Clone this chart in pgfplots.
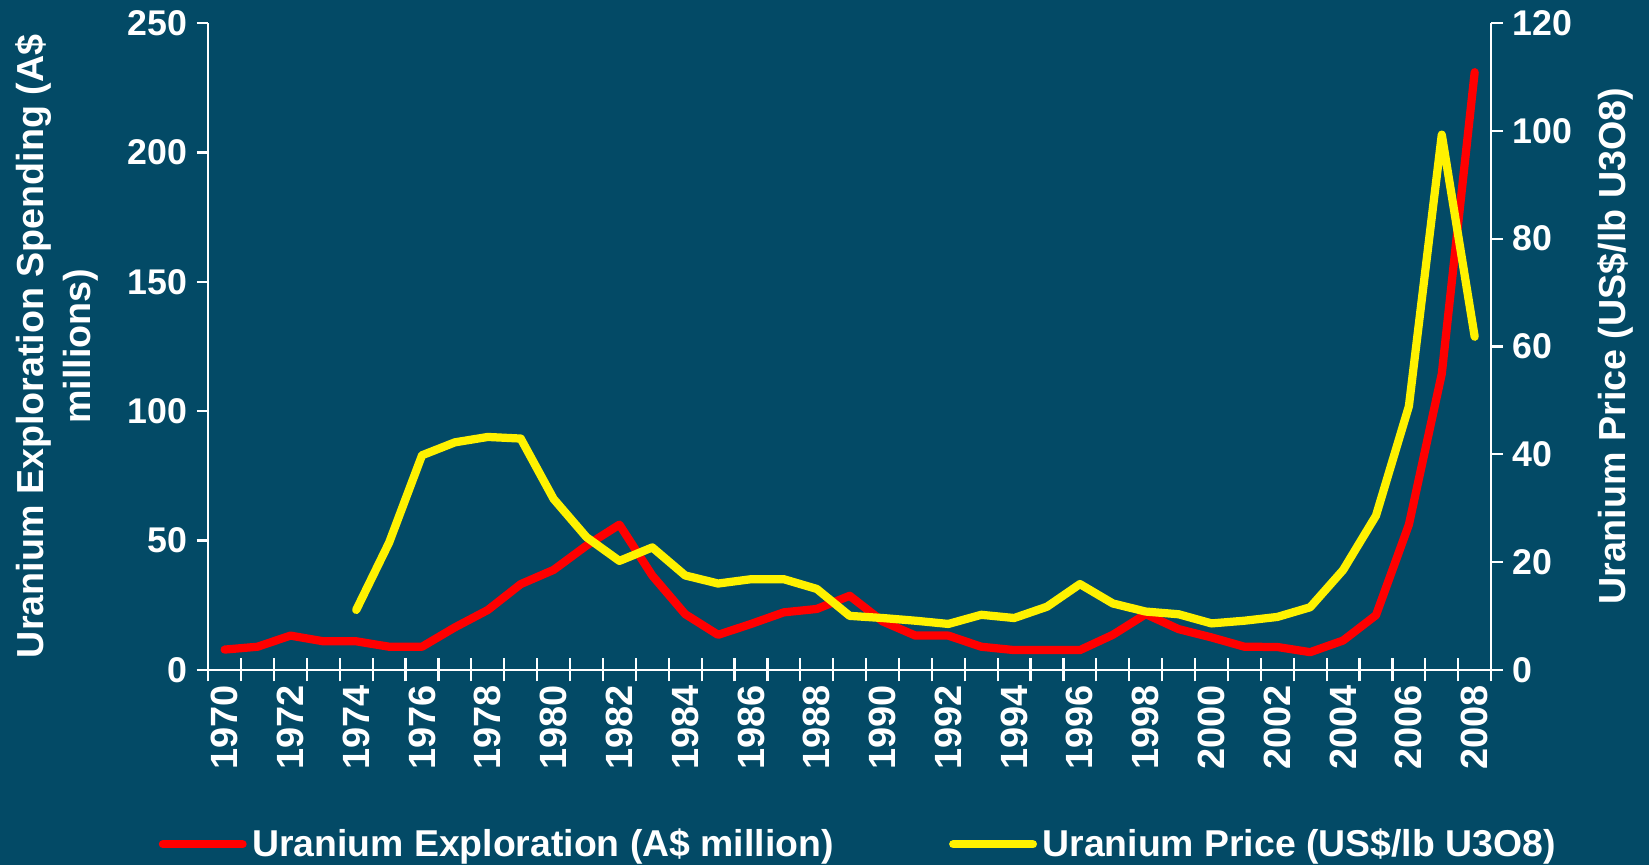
\documentclass[border=0pt]{standalone}
\usepackage{fontspec}
\setmainfont{Liberation Sans}
\usepackage{pgfplots}
\pgfplotsset{compat=1.18}
\definecolor{bg}{RGB}{3,74,102}
\pgfplotstableread{
year expl
1970 7.8
1971 8.9
1972 13.2
1973 11
1974 11
1975 8.9
1976 8.9
1977 16.4
1978 23.1
1979 33.1
1980 38.6
1981 48
1982 56.1
1983 36.4
1984 21.5
1985 13.5
1986 17.7
1987 22.2
1988 23.5
1989 28.6
1990 18.7
1991 13.2
1992 13.2
1993 8.9
1994 7.6
1995 7.6
1996 7.6
1997 13.5
1998 21.5
1999 15.7
2000 12.5
2001 8.9
2002 8.8
2003 6.8
2004 11.3
2005 21.1
2006 56.1
2007 114.4
2008 231
}\expltable
\pgfplotstableread{
year price
1974 11.1
1975 23.6
1976 39.8
1977 42.2
1978 43.2
1979 42.9
1980 31.7
1981 24.6
1982 20.2
1983 22.7
1984 17.5
1985 16
1986 16.8
1987 16.8
1988 15
1989 10.0
1990 9.6
1991 9.1
1992 8.5
1993 10.2
1994 9.6
1995 11.7
1996 15.9
1997 12.3
1998 10.8
1999 10.3
2000 8.6
2001 9.1
2002 9.8
2003 11.6
2004 18.5
2005 28.6
2006 48.9
2007 99.3
2008 61.8
}\pricetable
\pgfplotsset{
  common/.style={
    at={(75.76pt,71.2pt)}, anchor=south west,
    scale only axis, width=466.8pt, height=235.3pt,
    xmin=1969.5, xmax=2008.5,
    axis line style={white, line width=0.8pt, -},
    tick style={white, line width=0.8pt},
    major tick length=4.2pt,
    /pgf/number format/assume math mode=true,
    /pgf/number format/1000 sep={},
    ticklabel style={text=white, font=\bfseries\fontsize{13}{13}\selectfont},
    label style={text=white, font=\bfseries\fontsize{13.7}{17.2}\selectfont},
  }
}
\begin{document}
\begin{tikzpicture}[x=1pt,y=1pt]
\fill[bg] (0,0) rectangle (600,314.9);
\begin{axis}[common,
  ymin=0, ymax=250,
  axis x line*=bottom, axis y line*=left,
  ytick={0,50,...,250},
  ytick align=outside,
  xtick={1970,1972,...,2008},
  every major x tick/.style={draw=none},
  minor xtick={1969.5,1970.5,...,2008.5},
  every minor x tick/.style={white, line width=0.8pt},
  minor tick length=8.4pt,
  xtick align=center,
  xticklabel style={rotate=90, anchor=east, font=\bfseries\fontsize{13.8}{14}\selectfont},
  ylabel={Uranium Exploration Spending (A\$\\millions)},
  ylabel style={align=center, at={(axis description cs:-0.118,0.5)}, anchor=center},
]
\addplot[red, line width=3pt, line cap=round, line join=round] table[x=year, y=expl] {\expltable};
\end{axis}
\begin{axis}[common,
  ymin=0, ymax=120,
  axis x line=none, axis y line*=right,
  ytick={0,20,...,120},
  ytick align=outside,
  ylabel={Uranium Price (US\$/lb U3O8)},
  ylabel style={at={(axis description cs:1.097,0.5)}, anchor=center},
  legend columns=2,
  legend style={at={(0.508,-0.27)}, anchor=center, draw=none, fill=none, text=white,
    font=\bfseries\fontsize{13.6}{14}\selectfont,
    /tikz/every even column/.append style={column sep=40pt}},
  legend image code/.code={\draw[#1, line cap=round] (0pt,0pt) -- (29pt,0pt);},
]
\addlegendimage{red, line width=3pt}
\addlegendentry{Uranium Exploration (A\$ million)}
\addplot[yellow, line width=3pt, line cap=round, line join=round] table[x=year, y=price] {\pricetable};
\addlegendentry{Uranium Price (US\$/lb U3O8)}
\end{axis}
\pgfresetboundingbox
\path (0,0) rectangle (600,314.9);
\end{tikzpicture}
\end{document}
